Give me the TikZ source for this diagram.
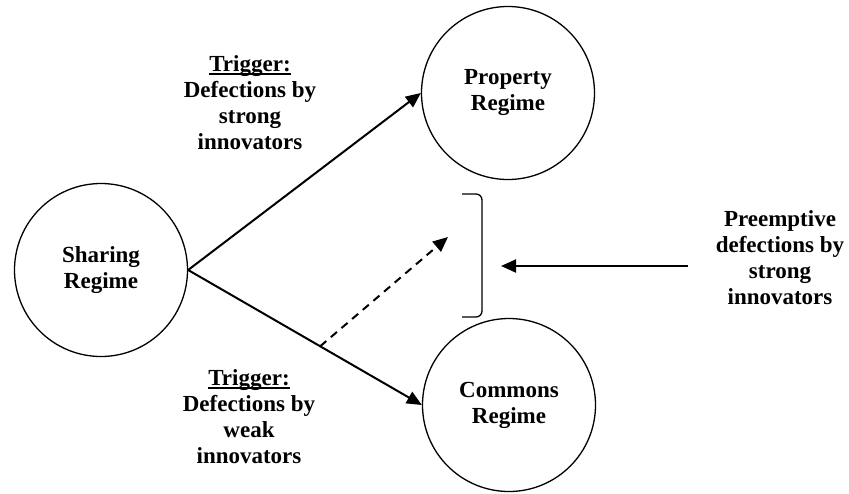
\documentclass[tikz,border=0pt]{standalone}
\usepackage{fontspec}
\setmainfont{Liberation Serif}
\usetikzlibrary{arrows.meta}
\newlength\ulw
\newcommand{\ulword}[1]{\settowidth{\ulw}{#1}\makebox[0pt][l]{\rule[-3pt]{\ulw}{1.5pt}}#1}

\begin{document}
\begin{tikzpicture}[x=1pt,y=-1pt,
    txt/.style={align=center,font=\bfseries\fontsize{23}{26}\selectfont},
    regime/.style={txt,draw,circle,line width=1.3pt,minimum size=173pt,inner sep=0pt},
    arr/.style={-{Triangle[length=15pt,width=13pt]},line width=2pt}]
        \useasboundingbox (0,0) rectangle (849,493);
        % the three regimes
        \node[regime] (sharing) at (101,270) {Sharing\\Regime};
        \node[regime] (property) at (508,93) {Property\\Regime};
        \node[regime] (commons) at (509,405) {Commons\\Regime};
        % triggers
        \node[txt] (trigstrong) at (250,103) {\ulword{Trigger:}\\Defections by\\strong\\innovators};
        \node[txt] (trigweak) at (249,417) {\ulword{Trigger:}\\Defections by\\weak\\innovators};
        \node[txt] (preempt) at (780,258) {Preemptive\\defections by\\strong\\innovators};
        % transitions
        \draw[arr] (sharing.east) -- (property.west);
        \draw[arr] (sharing.east) -- (commons.west);
        \path (sharing.east) -- (commons.west) coordinate[pos=0.565] (split);
        \coordinate (dashtip) at (448,237);
        \draw[arr,dash pattern=on 8pt off 6pt] (split) -- (dashtip);
        % bracket and preemption
        \draw[line width=1.3pt,rounded corners=6pt] (462,194) -- (482,194) -- (482,317) -- (462,317);
        \coordinate (pstart) at (688,266);
        \coordinate (ptip) at (501,266);
        \draw[arr] (pstart) -- (ptip);
\end{tikzpicture}
\end{document}
